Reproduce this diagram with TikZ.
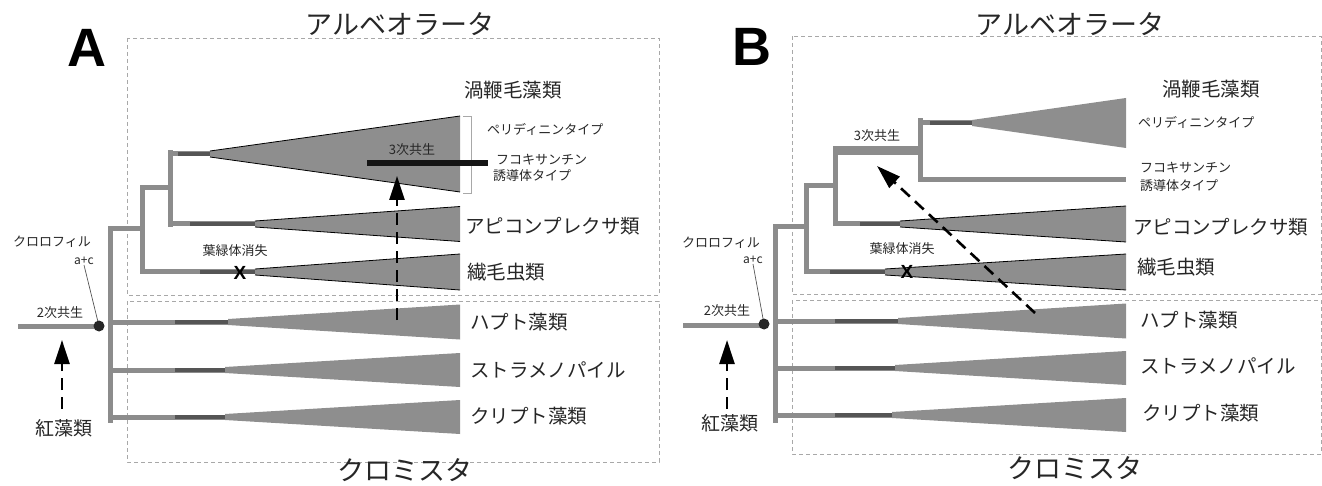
\documentclass[tikz,border=0pt]{standalone}
\usepackage{fontspec}
\setmainfont{Noto Sans CJK JP}
\newfontfamily\latinb{Liberation Sans}
\usetikzlibrary{arrows.meta}
\definecolor{brgray}{HTML}{8C8C8C}
\definecolor{dkgray}{HTML}{555555}
\definecolor{trigray}{HTML}{8E8E8E}
\definecolor{boxgray}{HTML}{A8A8A8}
\definecolor{txt}{HTML}{262626}
\definecolor{barblack}{HTML}{151515}
\newcommand\myclade[6]{%
  \draw[br] (#1,#5) -- (#3,#5);
  \draw[dk] (#2,#5) -- (#3,#5);
  \fill[trigray] (#3,#5-3) -- (#4,#5-#6) -- (#4,#5+#6) -- (#3,#5+3) -- cycle;
}
\newcommand\myoutline[4]{%
  \draw[black, line width=0.8pt] (#1,#3-3) -- (#2,#3-#4);
  \draw[black, line width=0.8pt] (#1,#3+3) -- (#2,#3+#4);
}
\begin{document}
\begin{tikzpicture}[x=1pt,y=-1pt,
  br/.style={draw=brgray, line width=5pt, line cap=rect},
  dk/.style={draw=dkgray, line width=3.2pt},
  box/.style={draw=boxgray, dash pattern=on 4pt off 3pt, line width=0.7pt},
  big/.style={font=\fontsize{19.5}{22}\selectfont, text=txt, inner sep=0pt, anchor=west},
  sml/.style={font=\fontsize{13}{15}\selectfont, text=txt, inner sep=0pt},
  smlw/.style={sml, anchor=west},
  ttl/.style={font=\fontsize{27}{30}\selectfont, text=txt, inner sep=0pt},
  panel/.style={font=\latinb\bfseries\fontsize{54}{58}\selectfont, text=black, inner sep=0pt},
  cross/.style={font=\latinb\bfseries\fontsize{19}{20}\selectfont, text=black, inner sep=0pt},
  darr/.style={draw=black, line width=2.6pt, dash pattern=on 12pt off 7pt, -{Triangle[length=24pt,width=15pt]}},
  pointer/.style={draw=dkgray, line width=0.7pt},
  dotstyle/.style={fill=black!85},
]
\useasboundingbox (0,0) rectangle (1322,486);

% ---------------- Panel A ----------------
\draw[box] (127,38) rectangle (659,295);
\draw[box] (127,301) rectangle (659,462);
\node[panel] (labA) at (87,48) {A};
\node[ttl] (alvA) at (400,24) {アルベオラータ};
\node[ttl] (chrA) at (405,470) {クロミスタ};

% tree A
\draw[br] (20,326) -- (99,326);
\draw[br] (110,229) -- (110,420);
\draw[br] (110,229) -- (142,229);
\draw[br] (142,188) -- (142,272);
\draw[br] (142,188) -- (170,188);
\draw[br] (170,153) -- (170,225);
\myclade{170}{178}{210}{460}{154}{38}
\myoutline{210}{460}{154}{38}
\myclade{170}{190}{255}{460}{224}{17.5}
\myoutline{255}{460}{224}{17.5}
\myclade{142}{200}{255}{460}{272}{18}
\myoutline{255}{460}{272}{18}
\myclade{110}{175}{228}{460}{322}{17.5}
\myclade{110}{175}{225}{460}{370}{17}
\myclade{110}{175}{225}{460}{417}{17}

% bracket
\draw[boxgray, line width=0.8pt] (463,116) -- (471,116) -- (471,193) -- (463,193);

% third symbiosis bar A
\coordinate (barAl) at (367,163);
\coordinate (barAr) at (488,163);
\draw[barblack, line width=6pt] (barAl) -- (barAr);
\node[sml] (tertA) at (412,150) {3次共生};

% labels A
\node[big, anchor=center] (dinoA) at (513,90) {渦鞭毛藻類};
\node[smlw] (periA) at (487,129) {ペリディニンタイプ};
\node[smlw] (fucoA1) at (496,160) {フコキサンチン};
\node[smlw] (fucoA2) at (493,176) {誘導体タイプ};
\node[big] (apiA) at (465,226) {アピコンプレクサ類};
\node[big] (cilA) at (467,272) {繊毛虫類};
\node[big] (hapA) at (470,322) {ハプト藻類};
\node[big] (strA) at (470,370) {ストラメノパイル};
\node[big] (cryA) at (470,416) {クリプト藻類};

\node[sml] (loseA) at (235,251) {葉緑体消失};
\node[cross] (xA) at (240,273) {X};

\node[sml] (chlA) at (52,242) {クロロフィル};
\node[sml, font=\fontsize{12}{14}\selectfont] (acA) at (84,261) {a+c};
\node[sml] (secA) at (60,313) {2次共生};
\node[font=\fontsize{19}{22}\selectfont, text=txt, inner sep=0pt] (redA) at (64,428) {紅藻類};
\coordinate (dotA) at (99,326);
\draw[pointer] (acA.south) -- (dotA);
\fill[dotstyle] (dotA) circle (5.5);

\coordinate (rA) at (62,409);
\coordinate (rAt) at (62,340);
\draw[darr] (rA) -- (rAt);
\coordinate (tA) at (397,320);
\coordinate (tAt) at (397,176);
\draw[darr] (tA) -- (tAt);

% ---------------- Panel B ----------------
\draw[box] (792,36) rectangle (1321,294);
\draw[box] (792,300) rectangle (1321,454);
\node[panel] (labB) at (752,47) {B};
\node[ttl] (alvB) at (1070,24) {アルベオラータ};
\node[ttl] (chrB) at (1075,468) {クロミスタ};

% tree B
\draw[br] (685,325) -- (762,325);
\draw[br] (775,227) -- (775,420);
\draw[br] (775,227) -- (806,227);
\draw[br] (806,186) -- (806,272);
\draw[br] (806,186) -- (835,186);
\draw[br] (835,151) -- (835,224);
\draw[br, line width=9pt, line cap=butt] (833,151) -- (920,151);
\draw[br] (920,121) -- (920,180);
\myclade{920}{930}{972}{1126}{123}{25}
\draw[br, line cap=butt] (920,180) -- (1126,180);
\myclade{835}{860}{900}{1126}{224}{18}
\myoutline{900}{1126}{224}{18}
\myclade{806}{830}{885}{1126}{272}{18}
\myoutline{885}{1126}{272}{18}
\myclade{775}{835}{898}{1126}{321}{17.5}
\myclade{775}{835}{895}{1126}{368}{17}
\myclade{775}{835}{892}{1126}{415}{17}

\node[sml] (tertB) at (877,136) {3次共生};

% labels B
\node[big] (dinoB) at (1162,89) {渦鞭毛藻類};
\node[smlw] (periB) at (1138,122) {ペリディニンタイプ};
\node[smlw] (fucoB1) at (1140,168) {フコキサンチン};
\node[smlw] (fucoB2) at (1140,186) {誘導体タイプ};
\node[big] (apiB) at (1133,227) {アピコンプレクサ類};
\node[big] (cilB) at (1137,267) {繊毛虫類};
\node[big] (hapB) at (1140,320) {ハプト藻類};
\node[big] (strB) at (1140,366) {ストラメノパイル};
\node[big] (cryB) at (1142,413) {クリプト藻類};

\node[sml] (loseB) at (902,249) {葉緑体消失};
\node[cross] (xB) at (907,272) {X};

\node[sml] (chlB) at (721,243) {クロロフィル};
\node[sml, font=\fontsize{12}{14}\selectfont] (acB) at (753,260) {a+c};
\node[sml] (secB) at (727,311) {2次共生};
\node[font=\fontsize{19}{22}\selectfont, text=txt, inner sep=0pt] (redB) at (730,423) {紅藻類};
\coordinate (dotB) at (764,324);
\draw[pointer] (acB.south) -- (dotB);
\fill[dotstyle] (dotB) circle (5.5);

\coordinate (rB) at (727,409);
\coordinate (rBt) at (727,340);
\draw[darr] (rB) -- (rBt);
\coordinate (tB) at (1035,313);
\coordinate (tBt) at (877,166);
\draw[darr] (tB) -- (tBt);
\end{tikzpicture}
\end{document}
